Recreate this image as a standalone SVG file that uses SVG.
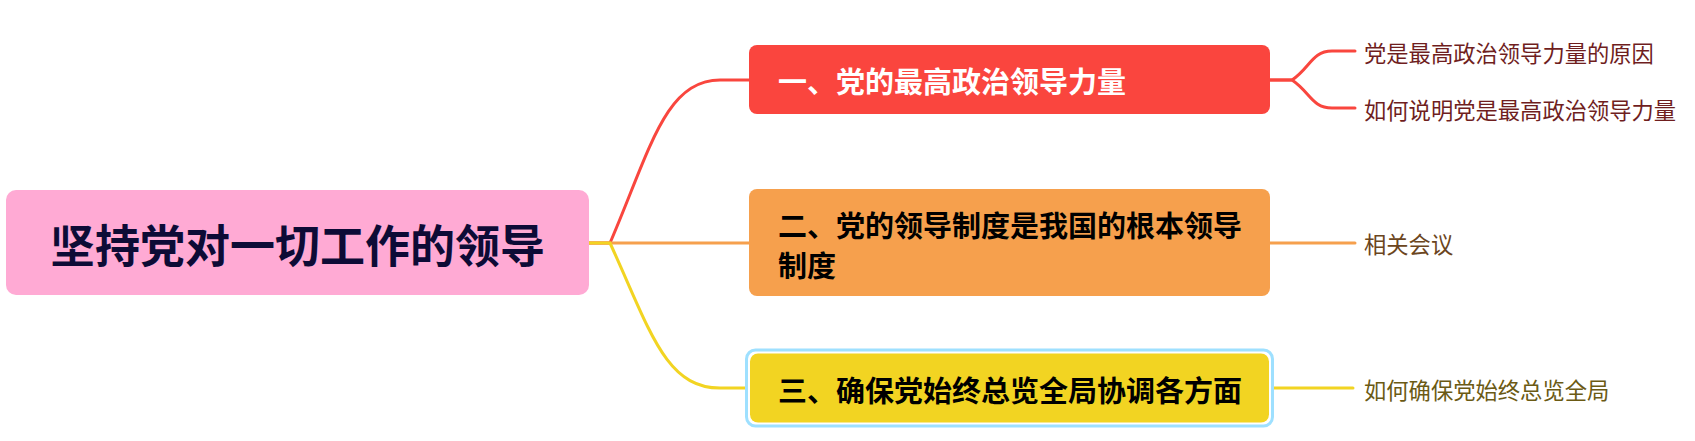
<svg xmlns="http://www.w3.org/2000/svg" width="1695" height="441" viewBox="0 0 1695 441">
<style>
.cn{font-family:"Noto Sans CJK SC","Noto Sans",sans-serif;}
.root{font-size:45px;font-weight:bold;fill:#0d0b36;}
.br{font-size:29px;font-weight:bold;}
.sub{font-size:22.3px;}
.ln{fill:none;stroke-width:3;stroke-linecap:round;}
</style>
<rect width="1695" height="441" fill="#ffffff"/>
<g id="connectors">
<path class="ln" stroke="#f9463e" d="M589,243 L610,243 C650,150 665,80 720,80 L749,80"/>
<path class="ln" stroke="#f6a04d" d="M589,243 L749,243"/>
<path class="ln" stroke="#f2d422" d="M589,243 L610,243 C650,330 665,388 720,388 L746,388"/>
<path class="ln" stroke="#f9463e" d="M1270,80 L1292,80 C1310,68 1312,51 1332,51 L1355,51"/>
<path class="ln" stroke="#f9463e" d="M1270,80 L1292,80 C1310,92 1312,108 1332,108 L1355,108"/>
<path class="ln" stroke="#f6a04d" d="M1270,243 L1355,243"/>
<path class="ln" stroke="#f2d422" d="M1274,388 L1353,388"/>
</g>
<g id="root">
<rect x="6" y="190" width="583" height="105" rx="10" fill="#ffaad4"/>
<text class="cn root" x="297.5" y="243" text-anchor="middle" dominant-baseline="central">坚持党对一切工作的领导</text>
</g>
<g id="branch1">
<rect x="749" y="45" width="521" height="69" rx="8" fill="#fa453e"/>
<text class="cn br" x="778" y="80" dominant-baseline="central" fill="#ffffff">一、党的最高政治领导力量</text>
</g>
<g id="branch2">
<rect x="749" y="189" width="521" height="107" rx="8" fill="#f6a04d"/>
<text class="cn br" x="778" y="223.5" dominant-baseline="central" fill="#000000">二、党的领导制度是我国的根本领导</text>
<text class="cn br" x="778" y="263.5" dominant-baseline="central" fill="#000000">制度</text>
</g>
<g id="branch3">
<rect x="746.5" y="350" width="526" height="76" rx="9" fill="none" stroke="#9ee0ff" stroke-width="3"/>
<rect x="750" y="353.5" width="519" height="69" rx="8" fill="#f2d422"/>
<text class="cn br" x="778" y="389" dominant-baseline="central" fill="#000000">三、确保党始终总览全局协调各方面</text>
</g>
<g id="sub1a">
<text class="cn sub" x="1364" y="52" dominant-baseline="central" fill="#6f1e1e">党是最高政治领导力量的原因</text>
</g>
<g id="sub1b">
<text class="cn sub" x="1364" y="109" dominant-baseline="central" fill="#6f1e1e">如何说明党是最高政治领导力量</text>
</g>
<g id="sub2">
<text class="cn sub" x="1364" y="243" dominant-baseline="central" fill="#6b4520">相关会议</text>
</g>
<g id="sub3">
<text class="cn sub" x="1364" y="389" dominant-baseline="central" fill="#6b5a14">如何确保党始终总览全局</text>
</g>
</svg>
